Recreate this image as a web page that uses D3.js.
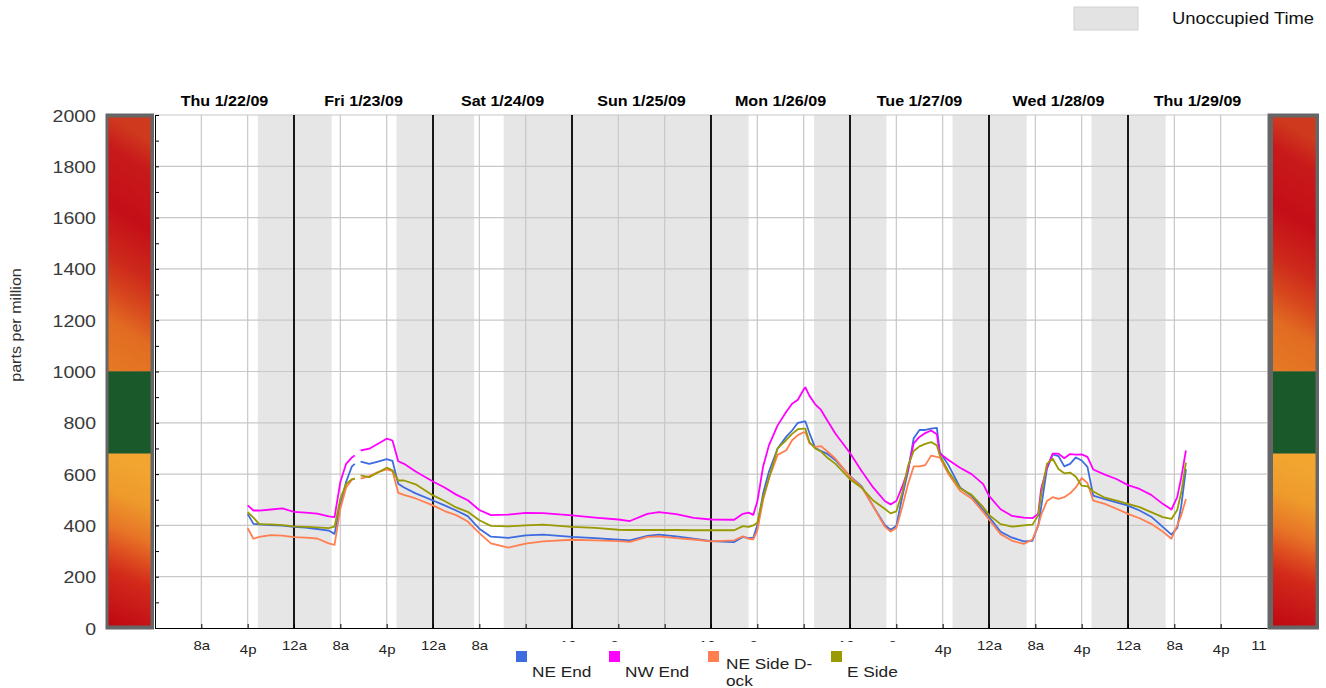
<!DOCTYPE html>
<html><head><meta charset="utf-8">
<script src="https://cdn.jsdelivr.net/npm/d3@7/dist/d3.min.js"></script>
<style>body{margin:0;background:#fff}svg{display:block}</style>
</head><body>
<svg id="chart" width="1326" height="688"></svg>
<script>
// ---------- DATA ----------
const hours = [16,17,18,20,22,24,26,28,30,31,32,33,34,34.5,35,35.5,37,38.5,40,41,42,43,45,48,50,52,54,56,58,61,64,67,72,76,80,82,85,87,90,93,96,100,101.5,102.5,103.3,104,105,106,107.5,109,110,111,112,112.3,113,114,115,116,117.5,120,122,124,126,127,128,129,130,131,132,133,134,135,135.5,137,139,141,143,144,146,148,150,151.5,152.5,153,154,155,156,157,158,159,160,161,162,164,166,168,170,172,174,175.5,176.5,177.2,178];

const neEnd = [445,406,404,401,399,394,391,386,380,367,
478,570,630,640,null,649,640,649,658,652,
562,548,525,497,478,458,436,387,356,351,
361,364,355,350,344,342,359,364,357,348,
339,335,355,350,352,400,525,609,700,746,
770,800,805,805,760,702,690,680,654,592,
553,475,402,383,398,510,610,740,772,772,
777,780,686,635,548,515,460,434,375,352,
338,340,400,470,620,677,670,630,640,665,
653,628,516,502,490,477,458,434,394,364,
390,477,619];

const nwEnd = [478,458,458,462,466,453,450,446,435,432,
569,640,665,673,null,692,699,718,738,731,
650,640,610,571,548,520,498,460,440,442,
449,448,439,430,423,417,445,452,444,429,
423,422,445,450,441,493,630,712,790,843,
874,890,930,938,905,872,850,812,757,682,
612,548,495,482,495,550,615,720,745,760,
770,755,680,655,625,600,561,515,463,437,
430,428,445,542,625,680,680,662,678,676,
677,667,618,598,581,557,542,519,484,462,
510,587,692];

const neSideDock = [389,348,355,362,360,354,352,349,330,324,
465,548,578,582,null,582,592,608,618,612,
527,519,505,478,456,440,415,370,330,313,
329,338,344,342,339,336,355,357,350,345,
338,342,357,348,346,380,500,583,675,693,
732,752,763,764,720,706,709,690,660,590,
550,475,395,376,390,470,560,630,630,635,
672,667,665,600,535,505,452,423,366,340,
328,345,400,440,495,510,503,510,525,548,
585,565,497,484,465,445,428,406,376,348,
400,440,503];

const eSide = [452,430,405,404,401,396,394,392,389,395,
504,562,580,582,null,595,588,606,625,615,
575,575,560,517,495,470,453,420,398,396,
400,403,394,390,383,382,382,382,382,381,
381,381,397,394,400,410,510,583,700,733,
757,775,777,777,725,700,688,666,640,580,
547,497,465,447,455,525,630,690,708,718,
725,712,674,610,545,519,471,441,405,395,
400,403,439,520,640,660,620,603,606,590,
555,552,532,508,497,484,471,452,432,425,
460,529,645];

const seriesNames = ["NE End", "NW End", "NE Side D-|ock", "E Side"];
const seriesColors = ["#3d6be0", "#ff00ff", "#ff7f50", "#999900"];

const dayLabels = ["Thu 1/22/09","Fri 1/23/09","Sat 1/24/09","Sun 1/25/09","Mon 1/26/09","Tue 1/27/09","Wed 1/28/09","Thu 1/29/09"];
const unoccupiedStart = [17.75, 41.7, 60.2, 113.8, 137.7, 161.7];
const unoccupiedEnd   = [30.5, 55.1, 102.5, 126.3, 150.5, 174.5];

const yTickValues = d3.range(0, 2001, 100);
const yLabelValues = [0,200,400,600,800,1000,1200,1400,1600,1800,2000];
const xTickHours = d3.range(8, 185, 8);
const hourLabels = {0: "12a", 8: "8a", 16: "4p"};
const endLabelHour = 190.6, endLabel = "11";

// comfort zones on the side bars
const zoneGreenLow = 680, zoneGreenHigh = 1000;

// ---------- DRAW ----------
const svg = d3.select("#chart");
const FONT = "'Liberation Sans', Arial, sans-serif";
const SX = 1.15;

const x = d3.scaleLinear().domain([0, 192]).range([155, 1267]);
const y = d3.scaleLinear().domain([0, 2000]).range([628, 115]);

const defs = svg.append("defs");
defs.append("clipPath").attr("id", "plotclip").append("rect")
  .attr("x", x(0)).attr("y", y(2000)).attr("width", x(192) - x(0)).attr("height", y(0) - y(2000));

function grad(id, stops) {
  const g = defs.append("linearGradient").attr("id", id)
    .attr("x1", "0.1").attr("y1", "0").attr("x2", "0").attr("y2", "1");
  stops.forEach(s => g.append("stop").attr("offset", s[0]).attr("stop-color", s[1]));
}
grad("gUp", [[0,"#cf3a1e"],[0.12,"#c81a1a"],[0.35,"#c50e18"],[0.55,"#cd2a1b"],[0.68,"#d8491e"],[0.8,"#e26c22"],[1,"#e67a24"]]);
grad("gLow", [[0,"#f2a630"],[0.22,"#ee9a2c"],[0.42,"#e77526"],[0.55,"#de4e20"],[0.68,"#d22a1a"],[0.85,"#c81818"],[1,"#c00812"]]);

// unoccupied bands
svg.append("g").selectAll("rect").data(unoccupiedStart).join("rect")
  .attr("x", (d) => x(d)).attr("y", y(2000))
  .attr("width", (d, i) => x(unoccupiedEnd[i]) - x(d))
  .attr("height", y(0) - y(2000)).attr("fill", "#e6e6e6");

// horizontal grid
svg.append("g").selectAll("line").data(yLabelValues.filter(v => v > 0)).join("line")
  .attr("x1", x(0)).attr("x2", x(192)).attr("y1", d => y(d)).attr("y2", d => y(d))
  .attr("stroke", "#c8c8c8").attr("stroke-width", 1.2);

// vertical grid (8a, 4p)
svg.append("g").selectAll("line").data(xTickHours.filter(h => h % 24 !== 0)).join("line")
  .attr("x1", d => x(d)).attr("x2", d => x(d)).attr("y1", y(2000)).attr("y2", y(0))
  .attr("stroke", "#c8c8c8").attr("stroke-width", 1.2);

// midnight lines
svg.append("g").selectAll("line").data(xTickHours.filter(h => h % 24 === 0)).join("line")
  .attr("x1", d => x(d)).attr("x2", d => x(d)).attr("y1", y(2000)).attr("y2", y(0))
  .attr("stroke", "#000").attr("stroke-width", 1.8);

// series lines
const allSeries = [neEnd, nwEnd, neSideDock, eSide];
const line = d3.line().defined(d => d[1] != null).x(d => x(d[0])).y(d => y(d[1]));
const lg = svg.append("g").attr("clip-path", "url(#plotclip)");
allSeries.forEach((vals, i) => {
  lg.append("path").datum(hours.map((h, j) => [h, vals[j]]))
    .attr("d", line).attr("fill", "none").attr("stroke", seriesColors[i])
    .attr("stroke-width", 1.8).attr("stroke-linejoin", "round");
});

// y axis
const yAxis = svg.append("g").attr("transform", `translate(${x(0)},0)`)
  .call(d3.axisLeft(y).tickValues(yTickValues).tickSizeInner(-4).tickSizeOuter(0)
    .tickFormat(v => (v % 200 === 0 ? v : "")));
yAxis.select(".domain").attr("stroke", "#000");
yAxis.selectAll(".tick line").attr("stroke", "#000");
yAxis.selectAll(".tick text")
  .attr("x", null).attr("dy", null)
  .attr("transform", "translate(-59,6) scale(" + SX + ",1)")
  .attr("text-anchor", "end").attr("font-family", FONT).attr("font-size", 17).attr("fill", "#3a3a3a");

// x axis
const xAxis = svg.append("g").attr("transform", `translate(0,${y(0)})`)
  .call(d3.axisBottom(x).tickValues(xTickHours).tickSizeInner(-4).tickSizeOuter(0)
    .tickFormat(h => hourLabels[h % 24]));
xAxis.select(".domain").attr("stroke", "#000");
xAxis.selectAll(".tick line").attr("stroke", "#000");
xAxis.selectAll(".tick text")
  .attr("y", null).attr("dy", null)
  .attr("transform", h => `translate(0,${h % 24 === 16 ? 26 : 22}) scale(${SX},1)`)
  .attr("font-family", FONT).attr("font-size", 13).attr("fill", "#222");
xAxis.append("text").attr("transform", `translate(${x(endLabelHour)},22) scale(${SX},1)`)
  .attr("x", 0).attr("text-anchor", "middle").attr("font-family", FONT).attr("font-size", 13)
  .attr("fill", "#222").text(endLabel);

// day labels
svg.append("g").selectAll("text").data(dayLabels).join("text")
  .attr("transform", (d, i) => `translate(${x(i * 24 + 12)},106) scale(${SX},1)`)
  .attr("text-anchor", "middle").attr("font-family", FONT).attr("font-size", 14)
  .attr("font-weight", "bold").attr("fill", "#000").text(d => d);

// side color bars
function sideBar(x0, x1, inL, inR) {
  svg.append("rect").attr("x", x0).attr("y", y(2000) - 1.5).attr("width", x1 - x0)
    .attr("height", y(0) - y(2000) + 3).attr("fill", "#666");
  const w = x1 - x0 - inL - inR;
  svg.append("rect").attr("x", x0 + inL).attr("y", y(2000) + 2.5).attr("width", w)
    .attr("height", y(zoneGreenHigh) - y(2000) - 2.5).attr("fill", "url(#gUp)");
  svg.append("rect").attr("x", x0 + inL).attr("y", y(zoneGreenHigh)).attr("width", w)
    .attr("height", y(zoneGreenLow) - y(zoneGreenHigh)).attr("fill", "#19592a");
  svg.append("rect").attr("x", x0 + inL).attr("y", y(zoneGreenLow)).attr("width", w)
    .attr("height", y(0) - y(zoneGreenLow) - 2.5).attr("fill", "url(#gLow)");
}
sideBar(105.5, 154, 3, 3.5);
sideBar(1267.5, 1319, 5.5, 3.5);

// y title
svg.append("text").attr("transform", `translate(21,325) rotate(-90) scale(${SX},1)`)
  .attr("text-anchor", "middle").attr("font-family", FONT).attr("font-size", 14)
  .attr("fill", "#333").text("parts per million");

// top-right legend
svg.append("rect").attr("x", 1074).attr("y", 7).attr("width", 64).attr("height", 23)
  .attr("fill", "#e3e3e3").attr("stroke", "#d2d2d2");
svg.append("text").attr("transform", `translate(1172,24) scale(${SX},1)`)
  .attr("font-family", FONT).attr("font-size", 16).attr("fill", "#111").text("Unoccupied Time");

// bottom legend (white box over axis labels)
svg.append("rect").attr("x", 505).attr("y", 642).attr("width", 420).attr("height", 46).attr("fill", "#fff");
const legX = [516, 609, 708, 831];
const lgd = svg.append("g");
seriesNames.forEach((name, i) => {
  lgd.append("rect").attr("x", legX[i]).attr("y", 651).attr("width", 11).attr("height", 11)
    .attr("fill", seriesColors[i]);
  const parts = name.split("|");
  const tx = legX[i] + (i === 2 ? 18 : 16);
  parts.forEach((p, k) => {
    lgd.append("text")
      .attr("transform", `translate(${tx},${parts.length > 1 ? 669 + k * 17 : 677}) scale(${SX},1)`)
      .attr("font-family", FONT).attr("font-size", 15).attr("fill", "#222").text(p);
  });
});
</script>
</body></html>
